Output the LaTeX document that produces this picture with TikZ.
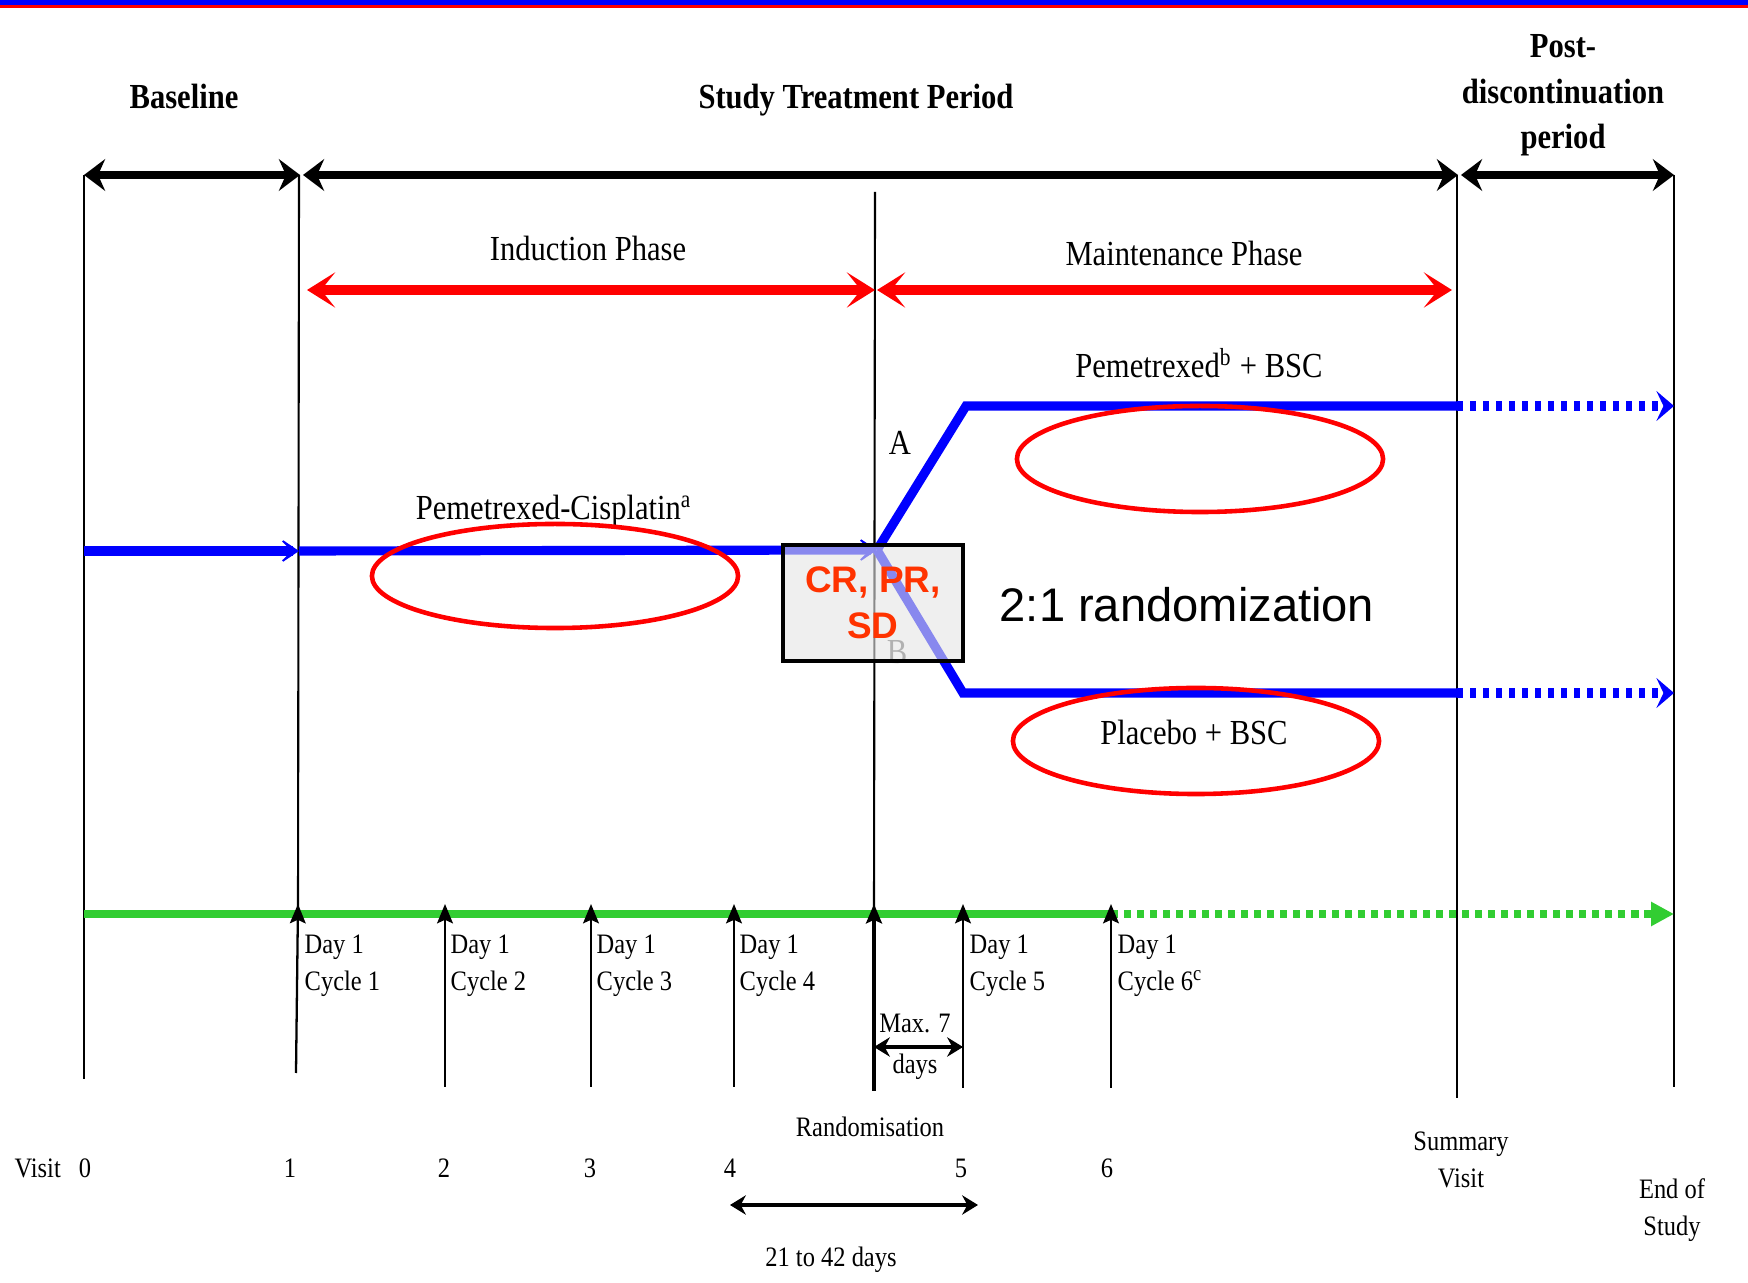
\documentclass[tikz,border=0pt]{standalone}
\usepackage{fontspec}
\setmainfont{Liberation Serif}[FakeStretch=0.87]
\newfontfamily\arialfont{Liberation Sans}
\usetikzlibrary{arrows.meta}
\definecolor{armgreen}{RGB}{50,205,50}
\definecolor{resporange}{RGB}{255,51,0}
\definecolor{boxgray}{RGB}{228,228,228}
\tikzset{
  hdr/.style={font=\bfseries\fontsize{10pt}{12.9pt}\selectfont, inner sep=0pt, align=center},
  lbl/.style={font=\fontsize{10pt}{12pt}\selectfont, inner sep=0pt},
  sml/.style={font=\fontsize{8pt}{10.5pt}\selectfont, inner sep=0pt, align=left},
  periodarrow/.style={line width=2.3pt, {Stealth[length=6pt,width=9pt,inset=2pt]}-{Stealth[length=6pt,width=9pt,inset=2pt]}},
  phasearrow/.style={red, line width=2.8pt, {Stealth[length=8pt,width=10pt,inset=4pt]}-{Stealth[length=8pt,width=10pt,inset=4pt]}},
  armline/.style={blue, line width=2.6pt},
  armhead/.style={-{Stealth[length=7pt,width=9.5pt,inset=5pt]}},
  armdots/.style={blue, line width=2.6pt, dash pattern=on 1.7pt off 2pt, -{Stealth[length=5pt,width=8.5pt,inset=2pt]}},
  greendots/.style={armgreen, line width=2.2pt, dash pattern=on 2pt off 1.7pt, -{Triangle[length=6.5pt,width=6.5pt]}},
  vline/.style={line width=0.6pt},
  visitarrow/.style={line width=0.65pt, -{Stealth[length=5.5pt,width=4.5pt,inset=1pt]}},
  ring/.style={red, line width=1.3pt},
  spanarrow/.style={line width=0.9pt, {Stealth[length=4.5pt,width=5.5pt]}-{Stealth[length=4.5pt,width=5.5pt]}},
  respbox/.style={draw, line width=1.3pt, fill=boxgray, fill opacity=0.6, text opacity=1,
    minimum width=1.8cm, minimum height=1.16cm, inner sep=0pt, align=center, text=resporange,
    font=\arialfont\bfseries\fontsize{10.5pt}{13.1pt}\selectfont}
}
\begin{document}
\begin{tikzpicture}[x=0.01cm, y=-0.01cm]
\useasboundingbox (0,0) rectangle (1748,1283);
\fill[blue] (0,0) rectangle (1748,5);
\fill[red] (0,5) rectangle (1748,8);

\coordinate (t0) at (84,175);
\coordinate (t1) at (300,175);
\coordinate (t1b) at (303,175);
\coordinate (t2) at (1458,175);
\coordinate (t2b) at (1461,175);
\coordinate (t3) at (1674,175);
\draw[periodarrow] (t0) -- (t1);
\draw[periodarrow] (t1b) -- (t2);
\draw[periodarrow] (t2b) -- (t3);
\node[hdr, anchor=base] (baseline) at (184,109) {Baseline};
\node[hdr, anchor=base] (study) at (856,109) {Study Treatment Period};
\node[hdr, anchor=north] (post) at (1563,34) {Post-\\discontinuation\\period};

\draw[vline] (84,175) -- (84,1079);
\draw[vline] (299,175) -- (298,914);
\draw[vline] (1457,175) -- (1457,1098);
\draw[vline] (1674,175) -- (1674,1087);
\draw[vline] (875,192) -- (874,914);

\coordinate (ind0) at (307,290);
\coordinate (ind1) at (875,290);
\coordinate (mnt0) at (877,290);
\coordinate (mnt1) at (1452,290);
\draw[phasearrow] (ind0) -- (ind1);
\draw[phasearrow] (mnt0) -- (mnt1);
\node[lbl, anchor=base] (induction) at (588,261) {Induction Phase};
\node[lbl, anchor=base] (maintenance) at (1184,266) {Maintenance Phase};

\coordinate (arm0) at (84,551);
\coordinate (arm1) at (299,551);
\coordinate (split) at (877,550);
\coordinate (bendA) at (966,406);
\coordinate (bendB) at (963,693);
\coordinate (stopA) at (1457,406);
\coordinate (stopB) at (1457,693);
\coordinate (endA) at (1674,406);
\coordinate (endB) at (1674,693);
\draw[armline, armhead] (arm0) -- (arm1);
\draw[armline, armhead] (arm1) -- (split);
\draw[armline] (split) -- (bendA) -- (stopA);
\draw[armline] (split) -- (bendB) -- (stopB);
\draw[armdots] (stopA) -- (endA);
\draw[armdots] (stopB) -- (endB);

\node[lbl, anchor=base] (pemcis) at (554,520) {Pemetrexed-Cisplatin\textsuperscript{a}};
\node[lbl, anchor=base] (pembsc) at (1199,378) {Pemetrexed\textsuperscript{b} + BSC};
\node[lbl, anchor=base] (placebo) at (1194,745) {Placebo + BSC};
\node[lbl, anchor=base] (armA) at (900,455) {A};
\node[lbl, anchor=base, black!60] (armB) at (897,664) {B};

\draw[ring] (555,576) ellipse [x radius=1.83cm, y radius=0.52cm];
\draw[ring] (1200,459) ellipse [x radius=1.83cm, y radius=0.53cm];
\draw[ring] (1196,741) ellipse [x radius=1.83cm, y radius=0.53cm];

\coordinate (g0) at (84,914);
\coordinate (g6) at (1111,914);
\coordinate (gend) at (1674,914);
\draw[armgreen, line width=2.2pt] (g0) -- (g6);
\draw[greendots] (g6) -- (gend);

\draw[visitarrow] (296,1073) -- (298,904);
\draw[visitarrow] (445,1087) -- (445,904);
\draw[visitarrow] (591,1087) -- (591,904);
\draw[visitarrow] (734,1087) -- (734,904);
\draw[visitarrow, line width=1.3pt] (874,1091) -- (874,904);
\draw[visitarrow] (963,1088) -- (963,904);
\draw[visitarrow] (1111,1088) -- (1111,904);

\node[sml, anchor=north west] (c1) at (304,934) {Day 1\\Cycle 1};
\node[sml, anchor=north west] (c2) at (450,934) {Day 1\\Cycle 2};
\node[sml, anchor=north west] (c3) at (596,934) {Day 1\\Cycle 3};
\node[sml, anchor=north west] (c4) at (739,934) {Day 1\\Cycle 4};
\node[sml, anchor=north west] (c5) at (969,934) {Day 1\\Cycle 5};
\node[sml, anchor=north west] (c6) at (1117,934) {Day 1\\Cycle 6\textsuperscript{c}};

\node[sml, anchor=base] (max7) at (915,1033) {Max. 7};
\node[sml, anchor=base] (days) at (915,1074) {days};
\draw[spanarrow] (874,1047) -- (963,1047);

\node[sml, anchor=base] (random) at (870,1137) {Randomisation};
\node[sml, anchor=base west] (visit) at (14,1178) {Visit};
\node[sml, anchor=base] (v0) at (85,1178) {0};
\node[sml, anchor=base] (v1) at (290,1178) {1};
\node[sml, anchor=base] (v2) at (444,1178) {2};
\node[sml, anchor=base] (v3) at (590,1178) {3};
\node[sml, anchor=base] (v4) at (730,1178) {4};
\node[sml, anchor=base] (v5) at (961,1178) {5};
\node[sml, anchor=base] (v6) at (1107,1178) {6};
\node[sml, align=center, anchor=north] (summary) at (1461,1131) {Summary\\Visit};
\node[sml, align=center, anchor=north] (endstudy) at (1672,1178) {End of\\Study};
\draw[spanarrow] (v4 |- 0,1205) -- (978,1205);
\node[sml, anchor=base] (window) at (831,1267) {21 to 42 days};

\node[respbox] (resp) at (873,603) {CR, PR,\\SD};
\node[anchor=base, inner sep=0pt, font=\arialfont\fontsize{13.4pt}{16pt}\selectfont] (ratio) at (1187,622) {2:1 randomization};
\end{tikzpicture}
\end{document}
